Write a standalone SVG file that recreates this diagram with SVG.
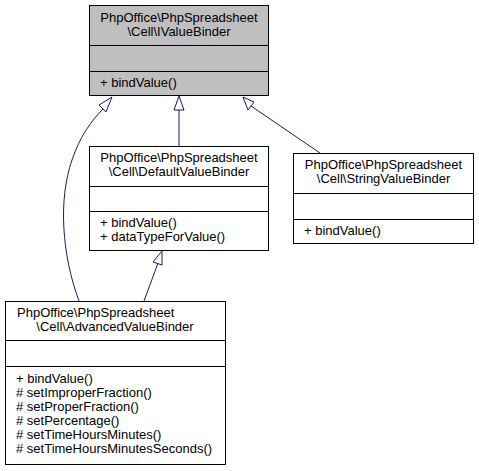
<svg xmlns="http://www.w3.org/2000/svg" width="479" height="471" viewBox="0 0 479 471">
<style>
text{font-family:"Liberation Sans",Arial,sans-serif;font-size:13px;fill:#000}
.box{fill:#fff;stroke:#000;stroke-width:1}
.gray{fill:#bfbfbf}
.sep{stroke:#000;stroke-width:1;fill:none}
.edge{stroke:#191970;stroke-width:1;fill:none}
.head{stroke:#191970;stroke-width:1;fill:#fff}
.m{text-anchor:middle}
</style>
<rect width="479" height="471" fill="#fff"/>
<g id="connectors">
<path class="edge" d="M179,146 L179,110"/>
<polygon class="head" points="179,96 174,110 184,110"/>
<path class="edge" d="M320,153 L251,106"/>
<polygon class="head" points="243,97 248,110 254,102"/>
<path class="edge" d="M79,301 C62,255 58,200 72,160 C80,136 92,120 103,109"/>
<polygon class="head" points="112,97 99,105 106,112"/>
<path class="edge" d="M144,301 L158,263"/>
<polygon class="head" points="162,251 153,262 162,265"/>
</g>
<g id="IValueBinder">
<rect class="box gray" x="89.5" y="5.5" width="179" height="90"/>
<line class="sep" x1="89.5" y1="45.5" x2="268.5" y2="45.5"/>
<line class="sep" x1="89.5" y1="71.5" x2="268.5" y2="71.5"/>
<text class="m" x="179" y="22">PhpOffice\PhpSpreadsheet</text>
<text class="m" x="179" y="36">\Cell\IValueBinder</text>
<text x="100" y="87">+ bindValue()</text>
</g>
<g id="DefaultValueBinder">
<rect class="box" x="89.5" y="146.5" width="179" height="104"/>
<line class="sep" x1="89.5" y1="186.5" x2="268.5" y2="186.5"/>
<line class="sep" x1="89.5" y1="211.5" x2="268.5" y2="211.5"/>
<text class="m" x="179" y="162">PhpOffice\PhpSpreadsheet</text>
<text class="m" x="179" y="176">\Cell\DefaultValueBinder</text>
<text x="100" y="227">+ bindValue()</text>
<text x="100" y="241">+ dataTypeForValue()</text>
</g>
<g id="StringValueBinder">
<rect class="box" x="293.5" y="153.5" width="180" height="90"/>
<line class="sep" x1="293.5" y1="193.5" x2="473.5" y2="193.5"/>
<line class="sep" x1="293.5" y1="219.5" x2="473.5" y2="219.5"/>
<text class="m" x="383.5" y="169">PhpOffice\PhpSpreadsheet</text>
<text class="m" x="383.5" y="183">\Cell\StringValueBinder</text>
<text x="304" y="235">+ bindValue()</text>
</g>
<g id="AdvancedValueBinder">
<rect class="box" x="5.5" y="301.5" width="220" height="163"/>
<line class="sep" x1="5.5" y1="340.5" x2="225.5" y2="340.5"/>
<line class="sep" x1="5.5" y1="366.5" x2="225.5" y2="366.5"/>
<text x="17" y="317">PhpOffice\PhpSpreadsheet</text>
<text class="m" x="115" y="331">\Cell\AdvancedValueBinder</text>
<text x="16" y="383">+ bindValue()</text>
<text x="16" y="397"># setImproperFraction()</text>
<text x="16" y="411"># setProperFraction()</text>
<text x="16" y="425"># setPercentage()</text>
<text x="16" y="439"># setTimeHoursMinutes()</text>
<text x="16" y="453"># setTimeHoursMinutesSeconds()</text>
</g>
</svg>
